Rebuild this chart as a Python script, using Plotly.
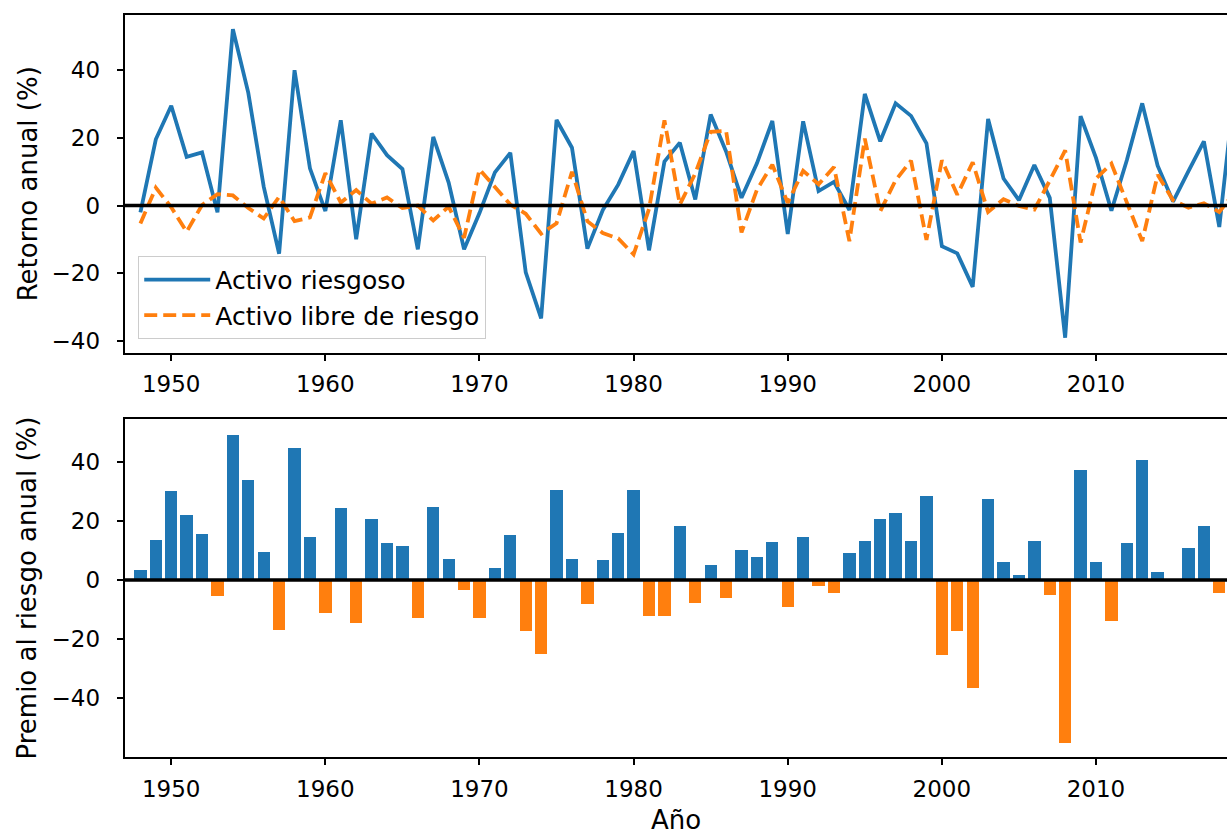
import plotly.graph_objects as go

# Annual returns (%) of the risky asset and the risk-free asset
years = list(range(1948, 2020))
risky = [
    -2.0, 19.6, 29.5, 14.4, 15.7, -2.0, 52.1, 33.3, 5.6, -14.2,
    40.0, 11.0, -1.6, 25.2, -9.9, 21.3, 14.9, 10.8, -12.9, 20.3,
    6.8, -12.9, -2.2, 9.8, 15.6, -19.7, -33.3, 25.3, 17.1, -12.7,
    -1.3, 6.2, 16.1, -13.2, 13.0, 18.6, 1.8, 26.9, 16.0, 2.3,
    12.5, 25.0, -8.4, 24.9, 4.3, 7.0, -1.3, 33.0, 19.0, 30.2,
    26.5, 18.4, -12.0, -14.1, -24.0, 25.6, 8.0, 1.6, 12.0, 2.3,
    -39.0, 26.4, 14.1, -1.5, 13.4, 30.2, 11.8, 1.2, 10.2, 19.0,
    -6.3, 35.0,
]
riskfree = [
    -5.3, 5.3, -0.5, -7.7, 0.2, 3.4, 3.0, -0.7, -3.8, 2.6,
    -4.6, -3.5, 9.6, 0.9, 4.6, 0.6, 2.4, -0.7, 0.0, -4.4,
    -0.3, -9.5, 10.7, 5.7, 0.3, -2.4, -8.3, -5.2, 10.0, -4.6,
    -8.1, -9.7, -14.4, -1.0, 25.2, 0.3, 9.5, 21.8, 22.1, -7.9,
    4.7, 12.1, 0.8, 10.3, 6.3, 11.4, -10.5, 19.8, -1.7, 7.5,
    13.3, -10.1, 13.4, 3.2, 12.8, -1.9, 1.9, -0.1, -1.2, 7.4,
    16.3, -10.9, 8.0, 12.4, 0.9, -10.5, 9.1, 1.6, -0.6, 0.7,
    -1.9, 4.0,
]

# Annual risk premium (%)
bar_years = list(range(1948, 2019))
premium = [
    3.4, 13.6, 30.2, 22.0, 15.6, -5.6, 49.2, 33.9, 9.5, -16.9,
    44.7, 14.6, -11.4, 24.4, -14.5, 20.7, 12.5, 11.5, -12.9, 24.7,
    7.1, -3.4, -12.9, 4.1, 15.3, -17.3, -25.0, 30.5, 7.1, -8.1,
    6.8, 15.9, 30.5, -12.2, -12.2, 18.3, -7.8, 5.1, -6.1, 10.2,
    7.8, 12.9, -9.2, 14.6, -2.0, -4.4, 9.2, 13.2, 20.7, 22.7,
    13.2, 28.5, -25.4, -17.3, -36.8, 27.5, 6.1, 1.7, 13.2, -5.1,
    -55.3, 37.3, 6.1, -13.9, 12.5, 40.7, 2.7, -0.4, 10.8, 18.3,
    -4.4,
]

x_ticks = [1950, 1960, 1970, 1980, 1990, 2000, 2010]
y_ticks = [-40, -20, 0, 20, 40]

BLUE = "#1f77b4"
ORANGE = "#ff7f0e"
FONT = "DejaVu Sans"

fig = go.Figure()

fig.add_trace(go.Scatter(
    x=years, y=risky, mode="lines", name="Activo riesgoso",
    line=dict(color=BLUE, width=3.8), xaxis="x", yaxis="y",
))
fig.add_trace(go.Scatter(
    x=years, y=riskfree, mode="lines", name="Activo libre de riesgo",
    line=dict(color=ORANGE, width=3.8, dash="13px,6px"), xaxis="x", yaxis="y",
))
fig.add_trace(go.Bar(
    x=bar_years, y=premium, width=0.8,
    marker=dict(color=[BLUE if v >= 0 else ORANGE for v in premium], line=dict(width=0)),
    showlegend=False, xaxis="x2", yaxis="y2",
))

# zero reference lines
for yref, xref in (("y", "x"), ("y2", "x2")):
    fig.add_shape(type="line", xref=f"{xref} domain", yref=yref,
                  x0=0, x1=1, y0=0, y1=0, line=dict(color="black", width=3.5),
                  layer="above")

axis_common = dict(
    showline=True, linecolor="black", linewidth=1.5,
    ticks="outside", ticklen=6.5, tickwidth=1.5, tickcolor="black",
    showgrid=False, zeroline=False,
    tickfont=dict(family=FONT, size=23, color="black"),
)
x_common = dict(axis_common, ticklabelstandoff=4)
y_common = dict(axis_common, ticklabelstandoff=12)

H = 835
W = 1227
top = 15
top_bottom = 352.7
bot_top = 419.3
bot_bottom = 757.3
plot_h = bot_bottom - top

fig.update_layout(
    width=W, height=H,
    margin=dict(l=125, r=0, t=top, b=H - bot_bottom),
    paper_bgcolor="white", plot_bgcolor="white",
    font=dict(family=FONT, color="black"),
    bargap=0,
    xaxis=dict(x_common, domain=[0, 1], range=[1947, 2018.5], tickvals=x_ticks,
               mirror=True, anchor="y"),
    yaxis=dict(y_common, domain=[(bot_bottom - top_bottom) / plot_h, 1],
               range=[-43.4, 56.3], tickvals=y_ticks, anchor="x",
               title=dict(text="Retorno anual (%)", font=dict(size=26), standoff=7)),
    xaxis2=dict(x_common, domain=[0, 1], range=[1947, 2018.5], tickvals=x_ticks,
                mirror=True, anchor="y2",
                title=dict(text="Año", font=dict(size=26), standoff=12)),
    yaxis2=dict(y_common, domain=[0, (bot_bottom - bot_top) / plot_h],
                range=[-60.0, 54.5], tickvals=y_ticks, anchor="x2",
                title=dict(text="Premio al riesgo anual (%)", font=dict(size=26), standoff=7)),
    legend=dict(
        x=0.012, y=(bot_bottom - 339) / plot_h, xanchor="left", yanchor="bottom",
        bgcolor="rgba(255,255,255,0.8)", bordercolor="#cccccc", borderwidth=1,
        font=dict(family=FONT, size=25, color="black"),
        itemwidth=66,
    ),
)

fig.write_html("out.html")
